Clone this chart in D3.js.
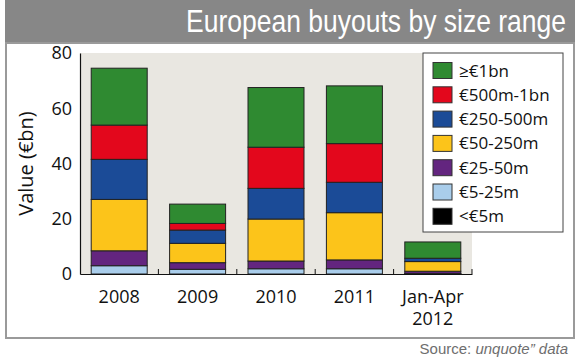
<!DOCTYPE html>
<html><head><meta charset="utf-8">
<script src="https://cdn.jsdelivr.net/npm/d3@7"></script>
<style>body{margin:0;background:#fff}svg{display:block}</style>
</head><body>
<svg id="c" width="580" height="358"></svg>
<script>
const categories = [["2008"],["2009"],["2010"],["2011"],["Jan-Apr","2012"]];
const seriesNames = ["<€5m","€5-25m","€25-50m","€50-250m","€250-500m","€500m-1bn","≥€1bn"];
const seriesColors = ["#000000","#a9cdeb","#63257f","#fcc41a","#1b4b97","#e3071c","#2f8a31"];
const under5m    = [0,   0,   0,   0,   0.1];
const from5to25  = [3.0, 1.7, 1.9, 1.9, 0.1];
const from25to50 = [5.4, 2.4, 2.8, 3.2, 0.8];
const from50to250= [18.6,7.0, 15.2,17.1,3.5];
const from250to500=[14.5,4.8, 11.1,11.0,1.2];
const from500to1bn=[12.4,2.4, 14.9,14.0,0];
const over1bn    = [20.6,7.0, 21.6,20.9,5.9];
const yTicks = [0,20,40,60,80];

const seriesValues = [under5m,from5to25,from25to50,from50to250,from250to500,from500to1bn,over1bn];
const keys = categories.map(c=>c.join(" "));
const rows = keys.map((k,i)=>{const r={cat:k}; seriesNames.forEach((s,j)=>r[s]=seriesValues[j][i]); return r;});

const svg = d3.select("#c");
const narrow = "'Liberation Sans',Arial,sans-serif";
// fit a text horizontally into a given width by scaling (condensed look)
function condensed(sel, xRight, yBase, width){
  const w = sel.node().getComputedTextLength();
  const k = Math.min(1, width / w);
  sel.attr("x",0).attr("y",0).attr("transform",`translate(${xRight},${yBase}) scale(${k},1)`);
}
// title bar
svg.append("rect").attr("x",5).attr("y",0).attr("width",570).attr("height",43).attr("fill","#878787");
const title = svg.append("text").attr("text-anchor","end")
  .attr("font-family",narrow).attr("font-size",31).attr("fill","#fff")
  .text("European buyouts by size range");
condensed(title, 566, 31.5, 380);
// frame
svg.append("rect").attr("x",6).attr("y",43).attr("width",568).attr("height",295)
  .attr("fill","#fff").attr("stroke","#9a9a9a").attr("stroke-width",2);

const m = {l:80, r:472, t:53, b:274};
svg.append("rect").attr("x",m.l).attr("y",m.t).attr("width",m.r-m.l).attr("height",m.b-m.t).attr("fill","#e9e7e1");

const x = d3.scaleBand().domain(keys).range([m.l,m.r]).paddingInner(0.2857).paddingOuter(0.1429);
const y = d3.scaleLinear().domain([0,80]).range([m.b,m.t]);

const stack = d3.stack().keys(seriesNames)(rows);
svg.append("g").selectAll("g").data(stack).join("g")
  .attr("fill",(d,i)=>seriesColors[i])
  .selectAll("rect").data(d=>d.filter(p=>p[1]-p[0]>0)).join("rect")
  .attr("x",d=>x(d.data.cat)).attr("width",x.bandwidth())
  .attr("y",d=>y(d[1])).attr("height",d=>y(d[0])-y(d[1]))
  .attr("stroke","#222").attr("stroke-width",1);

// axes
const font = "'Open Sans',sans-serif";
const ya = svg.append("g").attr("transform",`translate(${m.l},0)`)
  .call(d3.axisLeft(y).tickValues(yTicks).tickSize(0).tickPadding(8));
ya.select(".domain").attr("stroke","#111").attr("stroke-width",1.2);
ya.selectAll("text").attr("font-family",font).attr("font-size",18).attr("fill","#111");

const xa = svg.append("g").attr("transform",`translate(0,${m.b})`)
  .call(d3.axisBottom(x).tickSize(0).tickFormat(()=>""));
xa.select(".domain").attr("stroke","#111").attr("stroke-width",1.2);
// boundary ticks
const step = x.step();
xa.selectAll(".bt").data(keys).join("line").attr("class","bt")
  .attr("x1",d=>x(d)-x.paddingInner()*step/2+step).attr("x2",d=>x(d)-x.paddingInner()*step/2+step)
  .attr("y1",0).attr("y2",-5).attr("stroke","#111").attr("stroke-width",1);
const lab = svg.append("g");
categories.forEach((c,i)=>{
  const t = lab.append("text").attr("x",x(keys[i])+x.bandwidth()/2).attr("y",303)
    .attr("text-anchor","middle").attr("font-family",font).attr("font-size",18).attr("fill","#111");
  c.forEach((line,j)=>t.append("tspan").attr("x",x(keys[i])+x.bandwidth()/2).attr("dy",j?22:0).text(line));
});
svg.append("text").attr("transform",`translate(33,${(m.t+m.b)/2}) rotate(-90)`)
  .attr("text-anchor","middle").attr("font-family",font).attr("font-size",20).attr("fill","#111").text("Value (€bn)");

// legend
const lg = svg.append("g");
lg.append("rect").attr("x",423).attr("y",53).attr("width",140).attr("height",179)
  .attr("fill","#fff").attr("stroke","#444").attr("stroke-width",1);
const order = seriesNames.slice().reverse();
const ocol = seriesColors.slice().reverse();
order.forEach((s,i)=>{
  const yy = 62.5 + i*24.3;
  lg.append("rect").attr("x",433).attr("y",yy).attr("width",19).attr("height",16)
    .attr("fill",ocol[i]).attr("stroke","#333").attr("stroke-width",1);
  lg.append("text").attr("x",459).attr("y",yy+14).attr("font-family",font).attr("font-size",17)
    .attr("fill","#111").text(s);
});

// source
const src = svg.append("text").attr("text-anchor","end")
  .attr("font-family",narrow).attr("font-size",15).attr("fill","#6e6e6e");
src.append("tspan").text("Source: ");
src.append("tspan").attr("font-style","italic").text("unquote\u201D data");
condensed(src, 568, 354, 151);
</script>
</body></html>
